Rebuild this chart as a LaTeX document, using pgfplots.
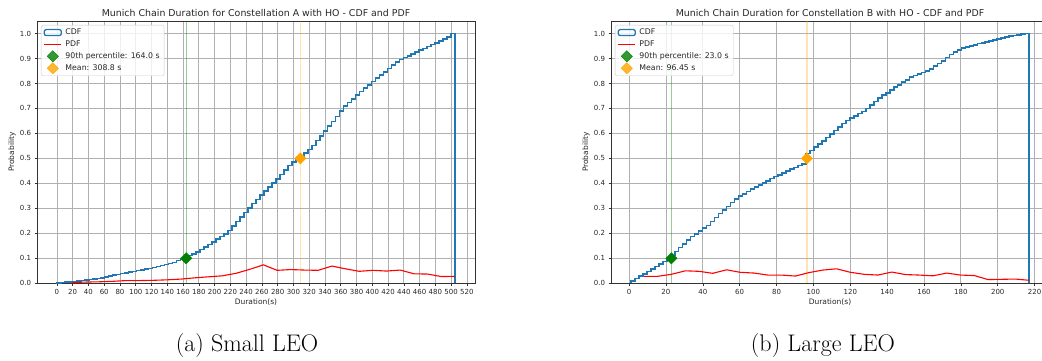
\documentclass[border=0pt]{standalone}
\usepackage{fontspec}
\usepackage{pgfplots}
\pgfplotsset{compat=1.18}
\newfontfamily\dv{DejaVu Sans}

\definecolor{cdfblue}{HTML}{1F77B4}
\definecolor{pdfred}{HTML}{FF0000}
\definecolor{pgreen}{HTML}{008000}
\definecolor{porange}{HTML}{FFA500}
\definecolor{gridgray}{HTML}{B0B0B0}
\definecolor{txt}{HTML}{262626}

\pgfplotsset{
  durstyle/.style={
    scale only axis, width=438pt, height=262.3pt,
    ymin=0, ymax=1.05,
    ytick={0,0.1,0.2,0.3,0.4,0.5,0.6,0.7,0.8,0.9,1.0},
    yticklabel style={/pgf/number format/fixed, /pgf/number format/fixed zerofill, /pgf/number format/precision=1},
    /pgf/number format/assume math mode=true,
    tick label style={font=\dv\fontsize{7}{8}\selectfont, text=txt},
    label style={font=\dv\fontsize{7.5}{9}\selectfont, text=txt},
    xlabel style={at={(axis description cs:0.5,-0.071)}, anchor=center},
    ylabel style={at={(axis description cs:-0.057,0.5)}, anchor=center},
    xlabel={Duration(s)}, ylabel={Probability},
    grid=major, major grid style={color=gridgray, line width=0.8pt},
    axis line style={black!80, line width=0.8pt},
    tick align=outside, major tick length=2.5pt, tick style={black!80, line width=0.6pt},
    xtick pos=bottom, ytick pos=left,
    legend cell align=left,
    legend style={at={(0.009,0.985)}, anchor=north west, draw=black!20, rounded corners=2pt,
      fill=white, fill opacity=0.8, text opacity=1, text=txt,
      font=\dv\fontsize{7.8}{9.6}\selectfont, inner xsep=2.5pt, inner ysep=1.8pt, row sep=0.6pt,
      /tikz/every odd column/.append style={column sep=1.5pt}},
    cdf/.style={cdfblue, line width=1.6pt, const plot, line join=miter,
      legend image code/.code={\draw[cdfblue, line width=1.3pt] (0pt,-3pt) rectangle (17pt,3pt);}},
    pdf/.style={pdfred, line width=1.1pt,
      legend image code/.code={\draw[pdfred, line width=1.1pt] (0pt,0pt) -- (17pt,0pt);}},
    gmark/.style={only marks, mark=square*, mark size=4pt, mark options={rotate=45, fill=pgreen, draw=pgreen}},
    omark/.style={only marks, mark=square*, mark size=4pt, mark options={rotate=45, fill=porange, draw=porange}},
  }
}

\begin{document}
\begin{tikzpicture}
\useasboundingbox (0pt,0pt) rectangle (1042pt,-360pt);

% ---------------- Constellation A ----------------
\begin{axis}[durstyle, at={(37pt,-283.3pt)}, anchor=south west,
  xmin=-25.25, xmax=530.25, xtick={0,20,...,520}]
\addplot[pgreen, opacity=0.4, line width=0.8pt, forget plot] coordinates {(164.0,0) (164.0,1.05)};
\addplot[porange, opacity=0.3, line width=1.6pt, forget plot] coordinates {(308.8,0) (308.8,1.05)};
\addplot[cdf] coordinates {
(0,0) (0,0.002) (5.05,0.003) (10.1,0.005) (15.15,0.006) (20.2,0.008) (25.25,0.010) (30.3,0.012) (35.35,0.013)
(40.4,0.016) (45.45,0.018) (50.5,0.020) (55.55,0.022) (60.6,0.026) (65.65,0.029) (70.7,0.033) (75.75,0.036)
(80.8,0.039) (85.85,0.042) (90.9,0.045) (95.95,0.048) (101,0.052) (106.05,0.054) (111.1,0.057) (116.15,0.060)
(121.2,0.064) (126.25,0.068) (131.3,0.071) (136.35,0.075) (141.4,0.079) (146.45,0.084) (151.5,0.091) (156.55,0.097)
(161.6,0.104) (166.65,0.111) (171.7,0.118) (176.75,0.126) (181.8,0.136) (186.85,0.146) (191.9,0.156) (196.95,0.166)
(202,0.177) (207.05,0.188) (212.1,0.198) (217.15,0.212) (222.2,0.230) (227.25,0.247) (232.3,0.265) (237.35,0.283)
(242.4,0.301) (247.45,0.319) (252.5,0.336) (257.55,0.353) (262.6,0.369) (267.65,0.385) (272.7,0.401) (277.75,0.418)
(282.8,0.436) (287.85,0.454) (292.9,0.472) (297.95,0.486) (303,0.498) (308.05,0.510) (313.1,0.522) (318.15,0.535)
(323.2,0.552) (328.25,0.571) (333.3,0.590) (338.35,0.610) (343.4,0.629) (348.45,0.647) (353.5,0.668) (358.55,0.689)
(363.6,0.709) (368.65,0.724) (373.7,0.738) (378.75,0.753) (383.8,0.768) (388.85,0.782) (393.9,0.795) (398.95,0.808)
(404,0.821) (409.05,0.833) (414.1,0.846) (419.15,0.860) (424.2,0.873) (429.25,0.886) (434.3,0.896) (439.35,0.904)
(444.4,0.911) (449.45,0.918) (454.5,0.925) (459.55,0.933) (464.6,0.940) (469.65,0.948) (474.7,0.956) (479.75,0.963)
(484.8,0.970) (489.85,0.977) (494.9,0.985) (499.95,1.000) (505,1.000) (505,0)
};
\addlegendentry{CDF}
\addplot[pdf] coordinates {
(18.9,0.003) (36.3,0.005) (53.6,0.006) (71.0,0.008) (88.3,0.011) (105.7,0.011) (123.0,0.012) (140.4,0.014)
(157.8,0.017) (175.1,0.022) (192.5,0.026) (209.8,0.030) (227.2,0.040) (244.6,0.056) (261.9,0.074) (279.3,0.052)
(296.6,0.055) (314.0,0.053) (331.4,0.052) (348.7,0.069) (366.1,0.058) (383.4,0.048) (400.8,0.052) (418.1,0.049)
(435.5,0.053) (452.9,0.038) (470.2,0.037) (487.6,0.027) (505.0,0.028)
};
\addlegendentry{PDF}
\addplot[gmark] coordinates {(164.0,0.1)};
\addlegendentry{90th percentile: 164.0 s}
\addplot[omark] coordinates {(308.8,0.5)};
\addlegendentry{Mean: 308.8 s}
\end{axis}

% ---------------- Constellation B ----------------
\begin{axis}[durstyle, at={(611pt,-283.3pt)}, anchor=south west,
  xmin=-9.8, xmax=227.8, xtick={0,20,...,220}]
\addplot[pgreen, opacity=0.4, line width=0.8pt, forget plot] coordinates {(23.0,0) (23.0,1.05)};
\addplot[porange, opacity=0.3, line width=1.6pt, forget plot] coordinates {(96.45,0) (96.45,1.05)};
\addplot[cdf] coordinates {
(1,0) (1,0.010) (3.16,0.019) (5.32,0.029) (7.48,0.038) (9.64,0.048) (11.8,0.058) (13.96,0.067) (16.12,0.077)
(18.28,0.088) (20.44,0.098) (22.6,0.112) (24.76,0.127) (26.92,0.143) (29.08,0.158) (31.24,0.173) (33.4,0.187)
(35.56,0.198) (37.72,0.210) (39.88,0.221) (42.04,0.232) (44.2,0.248) (46.36,0.263) (48.52,0.279) (50.68,0.294)
(52.84,0.308) (55,0.323) (57.16,0.337) (59.32,0.349) (61.48,0.358) (63.64,0.368) (65.8,0.378) (67.96,0.386)
(70.12,0.394) (72.28,0.402) (74.44,0.410) (76.6,0.419) (78.76,0.427) (80.92,0.434) (83.08,0.442) (85.24,0.449)
(87.4,0.457) (89.56,0.464) (91.72,0.472) (93.88,0.478) (96.04,0.520) (98.2,0.532) (100.36,0.545) (102.52,0.557)
(104.68,0.570) (106.84,0.583) (109,0.597) (111.16,0.611) (113.32,0.626) (115.48,0.640) (117.64,0.652) (119.8,0.661)
(121.96,0.670) (124.12,0.679) (126.28,0.688) (128.44,0.700) (130.6,0.714) (132.76,0.728) (134.92,0.742) (137.08,0.753)
(139.24,0.763) (141.4,0.774) (143.56,0.785) (145.72,0.795) (147.88,0.805) (150.04,0.815) (152.2,0.825) (154.36,0.832)
(156.52,0.838) (158.68,0.844) (160.84,0.850) (163,0.859) (165.16,0.869) (167.32,0.880) (169.48,0.891) (171.64,0.904)
(173.8,0.916) (175.96,0.926) (178.12,0.934) (180.28,0.941) (182.44,0.946) (184.6,0.951) (186.76,0.955) (188.92,0.960)
(191.08,0.963) (193.24,0.966) (195.4,0.970) (197.56,0.973) (199.72,0.977) (201.88,0.981) (204.04,0.985) (206.2,0.989)
(208.36,0.992) (210.52,0.995) (212.68,0.997) (214.84,1.000) (217,1.000) (217,0)
};
\addlegendentry{CDF}
\addplot[pdf] coordinates {
(8.1,0.028) (15.5,0.028) (23.0,0.036) (30.5,0.050) (37.9,0.048) (45.4,0.040) (52.9,0.054) (60.3,0.044)
(67.8,0.041) (75.3,0.033) (82.7,0.033) (90.2,0.029) (97.7,0.043) (105.1,0.053) (112.6,0.058) (120.1,0.044)
(127.5,0.036) (135.0,0.033) (142.5,0.045) (149.9,0.035) (157.4,0.033) (164.9,0.030) (172.3,0.041) (179.8,0.033)
(187.3,0.031) (194.7,0.015) (202.2,0.016) (209.6,0.017) (217.1,0.012)
};
\addlegendentry{PDF}
\addplot[gmark] coordinates {(23.0,0.1)};
\addlegendentry{90th percentile: 23.0 s}
\addplot[omark] coordinates {(96.45,0.5)};
\addlegendentry{Mean: 96.45 s}
\end{axis}

% titles above the two panels
\node[font=\dv\fontsize{9.4}{11}\selectfont, text=txt] at (256pt,-13pt) {Munich Chain Duration for Constellation A with HO - CDF and PDF};
\node[font=\dv\fontsize{9.4}{11}\selectfont, text=txt] at (830pt,-13pt) {Munich Chain Duration for Constellation B with HO - CDF and PDF};

% sub-captions
\node[font=\fontsize{24}{29}\selectfont] at (247pt,-346pt) {(a) Small LEO};
\node[font=\fontsize{24}{29}\selectfont] at (823pt,-346pt) {(b) Large LEO};
\end{tikzpicture}
\end{document}
